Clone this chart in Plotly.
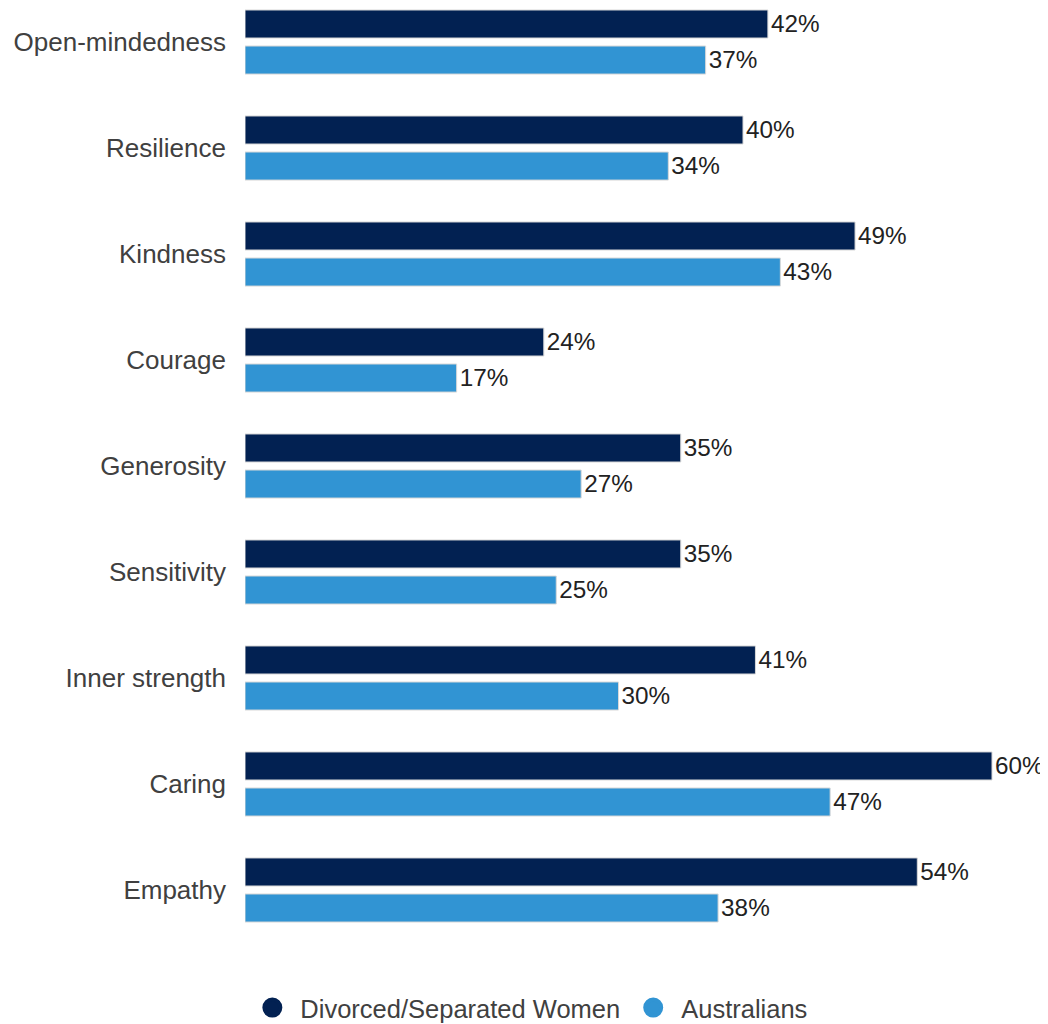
import plotly.graph_objects as go

categories = ["Open-mindedness", "Resilience", "Kindness", "Courage", "Generosity",
              "Sensitivity", "Inner strength", "Caring", "Empathy"]
women = [42, 40, 49, 24, 35, 35, 41, 60, 54]
australians = [37, 34, 43, 17, 27, 25, 30, 47, 38]
series_names = ["Divorced/Separated Women", "Australians"]

DARK = "#022152"
LIGHT = "#3194d3"
FONT = "Liberation Sans, Arial"

fig = go.Figure()
for name, vals, col in [(series_names[0], women, DARK), (series_names[1], australians, LIGHT)]:
    fig.add_trace(go.Bar(
        y=categories, x=vals, orientation="h", name=name,
        marker=dict(color=col, line=dict(color="#d8d8d8", width=1)),
        text=[f"{v}%" for v in vals], textposition="outside",
        textfont=dict(family=FONT, size=26, color="#222222"),
        cliponaxis=False, showlegend=False,
    ))
for name, col in [(series_names[0], DARK), (series_names[1], LIGHT)]:
    fig.add_trace(go.Scatter(
        x=[None], y=[None], mode="markers", name=name,
        xaxis="x2", yaxis="y2",
        marker=dict(symbol="circle", size=23, color=col, line=dict(color=col, width=4)),
        showlegend=True, hoverinfo="skip",
    ))

fig.update_layout(
    width=1048, height=1024,
    margin=dict(l=237, r=0, t=0, b=64),
    paper_bgcolor="white", plot_bgcolor="white",
    barmode="group", bargap=0.32, bargroupgap=0.222,
    font=dict(family=FONT, size=26, color="#404040"),
    xaxis=dict(type="linear", autorange=False, range=[0, 811 / 12.45],
               showticklabels=False, showgrid=False, zeroline=False, showline=False, ticks=""),
    yaxis=dict(categoryorder="array", categoryarray=categories, autorange=False,
               range=[8.736, -0.321], showgrid=False, zeroline=False, showline=False,
               ticks="", ticklabelstandoff=18, automargin=False,
               tickfont=dict(family=FONT, size=26, color="#404040")),
    xaxis2=dict(visible=False, overlaying="x", range=[0, 1]),
    yaxis2=dict(visible=False, overlaying="y", range=[0, 1]),
    legend=dict(orientation="h", x=0.35, xanchor="center",
                y=-0.0417, yanchor="middle",
                font=dict(family=FONT, size=25.5, color="#404040"),
                itemsizing="trace", itemwidth=46),
)

fig.write_html("out.html")
